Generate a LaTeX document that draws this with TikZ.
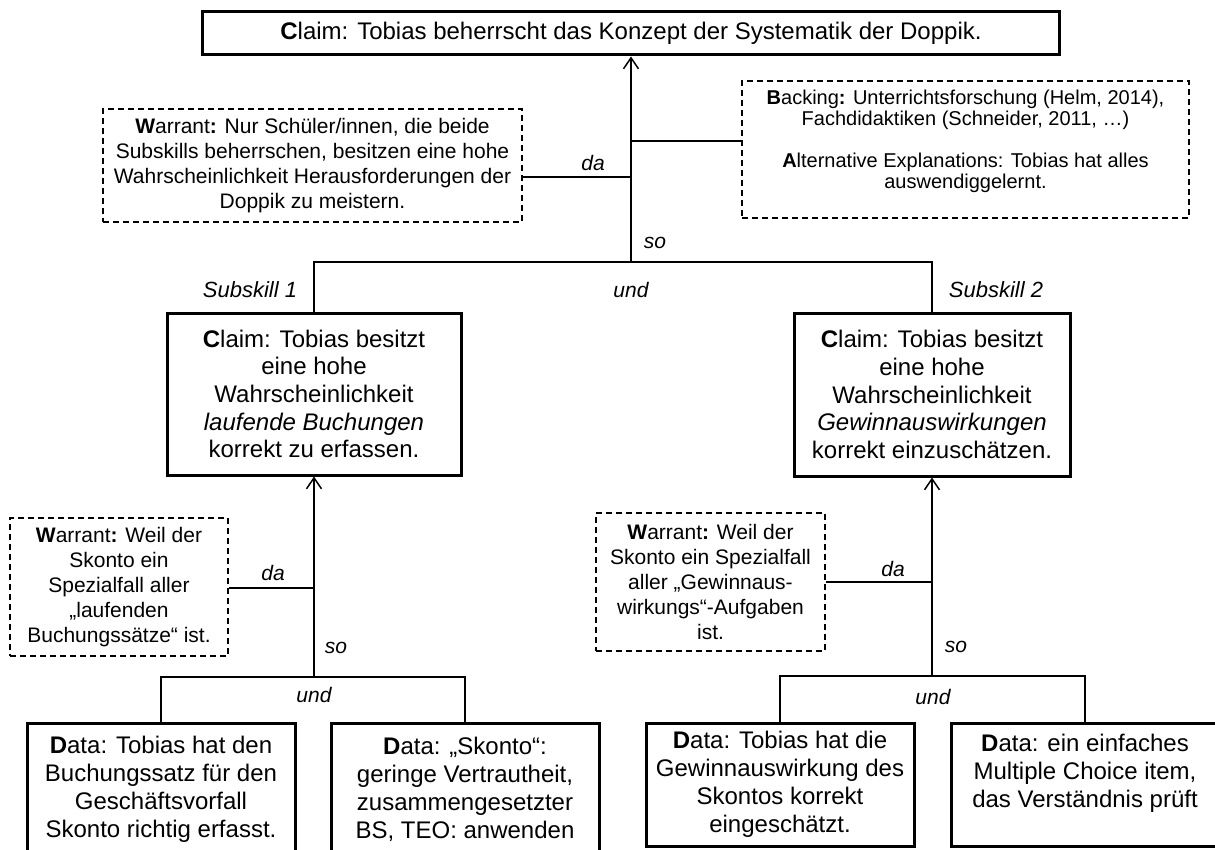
\documentclass[tikz,border=0pt]{standalone}
\usepackage{fontspec}
\setmainfont{Liberation Sans}
\usetikzlibrary{arrows.meta}
\begin{document}
\begin{tikzpicture}[x=1pt,y=-1pt,
  claimbox/.style={draw, line width=3pt, align=center, inner sep=0pt, font=\fontsize{24}{27.6}\selectfont},
  databox/.style={claimbox, font=\fontsize{24}{28}\selectfont},
  warrbox/.style={draw, line width=1.3pt, dash pattern=on 6pt off 4pt, align=center, inner sep=0pt, font=\fontsize{21}{24.8}\selectfont},
  backbox/.style={warrbox, font=\fontsize{20}{21}\selectfont},
  lbl/.style={font=\fontsize{21}{24}\selectfont\itshape, inner sep=0pt},
  sslbl/.style={font=\fontsize{22}{24}\selectfont\itshape, inner sep=0pt},
  conn/.style={line width=1.5pt},
  arr/.style={conn, -{Straight Barb[length=11pt,width=15pt]}}
]
\useasboundingbox (0,0) rectangle (1215,850);
\clip (0,0) rectangle (1215,850);

% nodes
\node[claimbox, minimum width=857pt, minimum height=43pt] (top) at (631,33.5)
  {\textbf{C}laim: Tobias beherrscht das Konzept der Systematik der Doppik.};
\node[warrbox, minimum width=419pt, minimum height=113pt] (w1) at (312.5,165.5)
  {\textbf{W}arrant\textbf{:} Nur Schüler/innen, die beide\\Subskills beherrschen, besitzen eine hohe\\Wahrscheinlichkeit Herausforderungen der\\Doppik zu meistern.};
\node[backbox, minimum width=447pt, minimum height=137pt] (bk) at (965.5,149.5)
  {\textbf{B}acking\textbf{:} Unterrichtsforschung (Helm, 2014),\\Fachdidaktiken (Schneider, 2011, …)\\ \mbox{}\\ \textbf{A}lternative Explanations: Tobias hat alles\\auswendiggelernt.\\ \mbox{}};
\node[claimbox, minimum width=294pt, minimum height=162pt] (c1) at (314,394)
  {\textbf{C}laim: Tobias besitzt\\eine hohe\\Wahrscheinlichkeit\\\textit{laufende Buchungen}\\korrekt zu erfassen.};
\node[claimbox, minimum width=276pt, minimum height=163pt] (c2) at (932,394.5)
  {\textbf{C}laim: Tobias besitzt\\eine hohe\\Wahrscheinlichkeit\\\textit{Gewinnauswirkungen}\\korrekt einzuschätzen.};
\node[warrbox, minimum width=218pt, minimum height=138pt] (w2) at (119,587)
  {\textbf{W}arrant\textbf{:} Weil der\\Skonto ein\\Spezialfall aller\\„laufenden\\Buchungssätze“ ist.};
\node[warrbox, minimum width=229pt, minimum height=138pt] (w3) at (710.5,582)
  {\textbf{W}arrant\textbf{:} Weil der\\Skonto ein Spezialfall\\aller „Gewinnaus-\\wirkungs“-Aufgaben\\ist.};
\node[databox, minimum width=268pt, minimum height=132pt] (d1) at (161,789)
  {\textbf{D}ata: Tobias hat den\\Buchungssatz für den\\Geschäftsvorfall\\Skonto richtig erfasst.};
\node[databox, minimum width=268pt, minimum height=132pt] (d2) at (465,789)
  {\textbf{D}ata: „Skonto“:\\geringe Vertrautheit,\\zusammengesetzter\\BS, TEO: anwenden};
\node[databox, minimum width=268pt, minimum height=123pt] (d3) at (780,784.5)
  {\textbf{D}ata: Tobias hat die\\Gewinnauswirkung des\\Skontos korrekt\\eingeschätzt.};
\node[databox, minimum width=268pt, minimum height=123pt] (d4) at (1085,784.5)
  {\textbf{D}ata: ein einfaches\\Multiple Choice item,\\das Verständnis prüft\\ \mbox{}};

% junctions
\coordinate (j0) at (631,262);
\coordinate (b0) at (631,141);
\coordinate (e0) at (631,177);
\coordinate (j1) at (314,677);
\coordinate (e1) at (314,588);
\coordinate (j2) at (932,676);
\coordinate (e2) at (932,582);

% connectors top
\draw[arr] (j0) -- (top.south);
\draw[conn] (b0) -- (b0 -| bk.west);
\draw[conn] (w1.east |- e0) -- (e0);
\draw[conn] (c1.north) |- (j0) -| (c2.north);
% lower left
\draw[arr] (j1) -- (c1.south);
\draw[conn] (w2.east |- e1) -- (e1);
\draw[conn] (d1.north) |- (j1) -| (d2.north);
% lower right
\draw[arr] (j2) -- (c2.south);
\draw[conn] (w3.east |- e2) -- (e2);
\draw[conn] (d3.north) |- (j2) -| (d4.north);

% labels
\node[lbl] (da0) at (593,163) {da};
\node[lbl] (so0) at (655,243) {so};
\node[lbl] (und0) at (631,290) {und};
\node[sslbl] (ss1) at (250,290) {Subskill 1};
\node[sslbl] (ss2) at (996,290) {Subskill 2};
\node[lbl] (da1) at (273,573) {da};
\node[lbl] (so1) at (336,648) {so};
\node[lbl] (und1) at (314,695) {und};
\node[lbl] (da2) at (893,569) {da};
\node[lbl] (so2) at (956,647) {so};
\node[lbl] (und2) at (933,697) {und};
\end{tikzpicture}
\end{document}
